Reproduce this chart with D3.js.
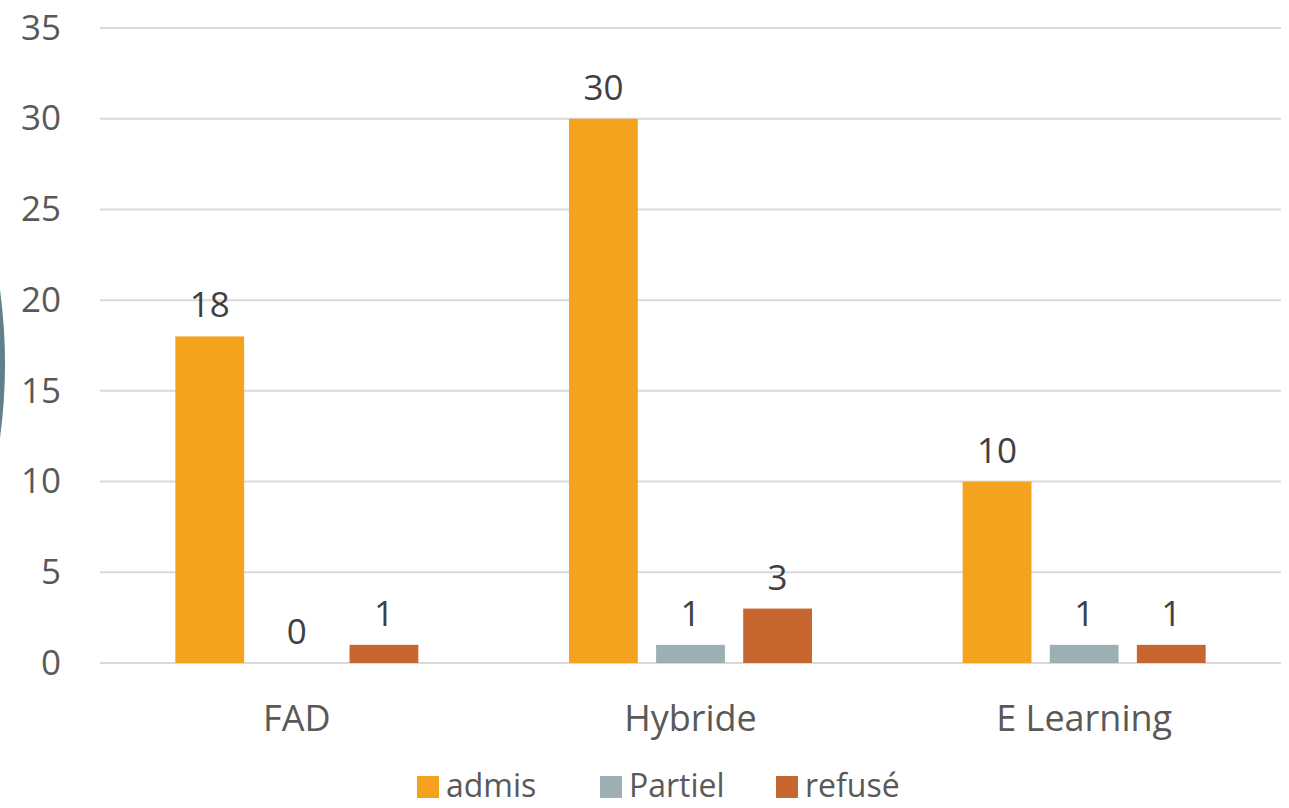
<!DOCTYPE html>
<html><head><meta charset="utf-8">
<script src="https://cdn.jsdelivr.net/npm/d3@7"></script>
<style>html,body{margin:0;padding:0;background:#fff;}svg{display:block;font-family:"Open Sans",Lato,sans-serif;}</style>
</head><body>
<svg id="c" width="1289" height="808"></svg>
<script>
const categories = ["FAD", "Hybride", "E Learning"];
const series = ["admis", "Partiel", "refusé"];
const admis = [18, 30, 10];
const partiel = [0, 1, 1];
const refuse = [1, 3, 1];
const yTicks = [0, 5, 10, 15, 20, 25, 30, 35];
const colors = ["#F5A31E", "#9EAFB4", "#C8662F"];

(function () {
const FONT = "'Open Sans',Lato,sans-serif";
const FS = 35;
const values = [admis, partiel, refuse];
const svg = d3.select("#c");
const pLeft = 100, pRight = 1281, pTop = 28, pBottom = 663;

// decorative arc at left edge
svg.append("path")
  .attr("d", d3.arc()({innerRadius: 0, outerRadius: 550, startAngle: Math.PI/2 - 0.14, endAngle: Math.PI/2 + 0.14}))
  .attr("transform", "translate(-545,364)")
  .attr("fill", "#60808A");

const y = d3.scaleLinear().domain([0, 35]).range([pBottom, pTop]);
const x0 = d3.scaleBand().domain(categories).range([pLeft, pRight]).padding(0);
const groupW = 243;
const x1 = d3.scaleBand().domain(series)
  .range([(x0.bandwidth() - groupW) / 2, (x0.bandwidth() + groupW) / 2])
  .paddingInner(0.21).paddingOuter(0);

// gridlines
svg.append("g").selectAll("line").data(yTicks).join("line")
  .attr("x1", pLeft).attr("x2", pRight)
  .attr("y1", d => y(d)).attr("y2", d => y(d))
  .attr("stroke", "#D9D9D9").attr("stroke-width", 2);

// y axis labels
const yAxis = d3.axisLeft(y).tickValues(yTicks).tickSize(0).tickPadding(0);
const ya = svg.append("g").attr("transform", "translate(61,0)").call(yAxis);
ya.select(".domain").remove();
ya.selectAll("text").attr("font-size", FS).attr("fill", "#595959").attr("font-family", FONT);

// x axis labels
const xAxis = d3.axisBottom(x0).tickSize(0).tickPadding(0);
const xa = svg.append("g").attr("transform", `translate(0,${pBottom + 42})`).call(xAxis);
xa.select(".domain").remove();
xa.selectAll("text").attr("font-size", FS + 1).attr("fill", "#595959").attr("font-family", FONT);

// bars
const data = [];
categories.forEach((c, i) => series.forEach((s, j) => data.push({c, s, j, v: values[j][i]})));
const g = svg.append("g");
g.selectAll("rect").data(data.filter(d => d.v > 0)).join("rect")
  .attr("x", d => x0(d.c) + x1(d.s))
  .attr("width", x1.bandwidth())
  .attr("y", d => y(d.v))
  .attr("height", d => y(0) - y(d.v))
  .attr("fill", d => colors[d.j]);

g.selectAll("text").data(data).join("text")
  .attr("x", d => x0(d.c) + x1(d.s) + x1.bandwidth() / 2)
  .attr("y", d => y(d.v) - 19)
  .attr("text-anchor", "middle")
  .attr("font-size", FS)
  .attr("font-family", FONT)
  .attr("fill", "#404040")
  .text(d => d.v);

// legend
const legX = [417, 600, 776];
const lg = svg.append("g");
series.forEach((s, j) => {
  lg.append("rect").attr("x", legX[j]).attr("y", 776).attr("width", 22).attr("height", 22).attr("fill", colors[j]);
  lg.append("text").attr("x", legX[j] + 29).attr("y", 797).attr("font-size", 32)
    .attr("font-family", FONT).attr("fill", "#595959").text(s);
});
})();
</script>
</body></html>
